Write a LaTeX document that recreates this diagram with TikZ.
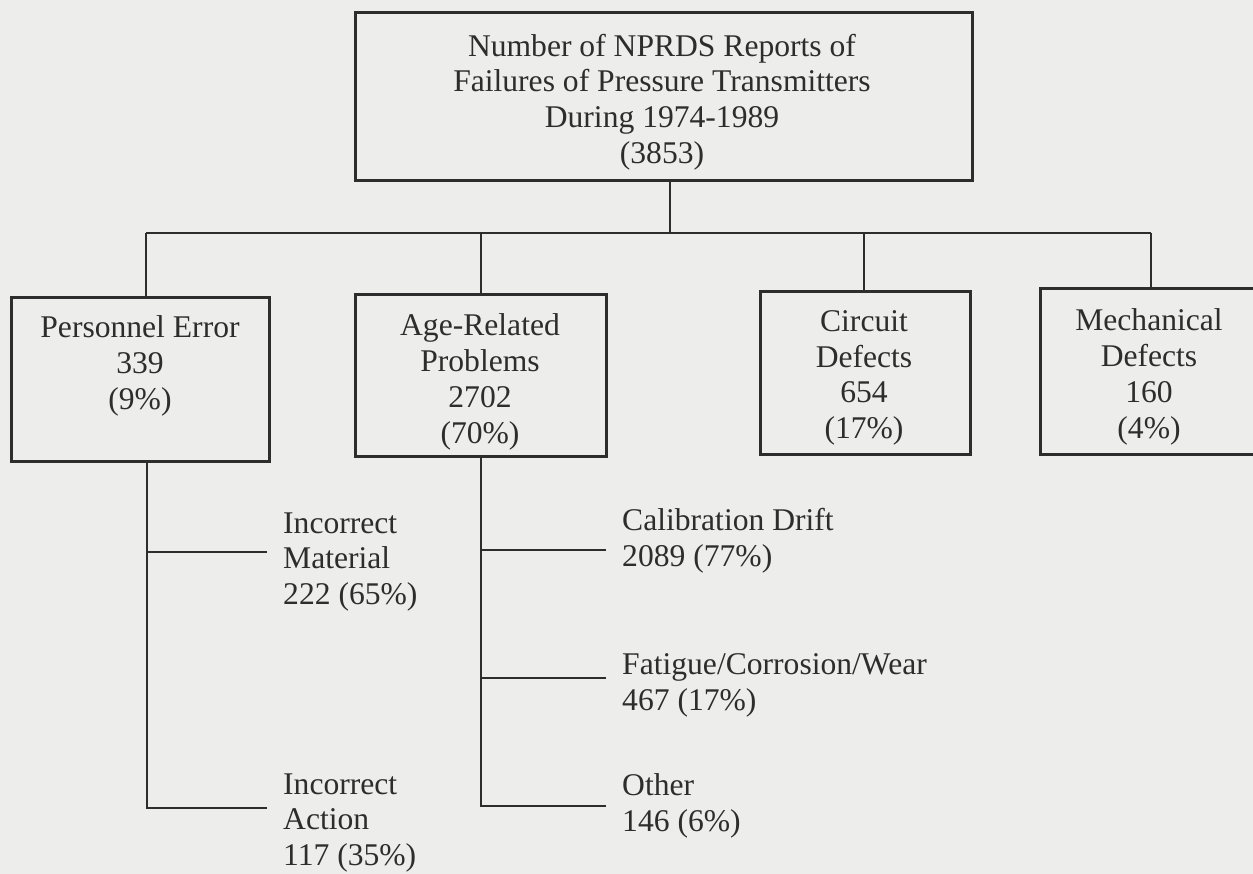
\documentclass[tikz,border=0pt]{standalone}
\usepackage{fontspec}
\setmainfont{Liberation Serif}
\definecolor{bgc}{RGB}{237,237,235}
\definecolor{inkc}{RGB}{45,45,45}
\begin{document}
\begin{tikzpicture}[x=1pt,y=-1pt,
  every node/.style={font=\fontsize{31.6}{35.8}\selectfont, text=inkc, inner sep=0pt},
  boxc/.style={draw=inkc, line width=2.6pt, rectangle, anchor=north west},
  ctext/.style={align=center},
  ltext/.style={align=left, anchor=west},
  link/.style={draw=inkc, line width=2.4pt}]
\fill[bgc] (0,0) rectangle (1253,874);
\useasboundingbox (0,0) rectangle (1253,874);
% boxes
\node[boxc, minimum width=617pt, minimum height=168pt] (top) at (354,11) {};
\node[boxc, minimum width=258pt, minimum height=164pt] (pe) at (10,296) {};
\node[boxc, minimum width=251pt, minimum height=162pt] (ar) at (354,293) {};
\node[boxc, minimum width=210pt, minimum height=163pt] (cd) at (759,290) {};
\node[boxc, minimum width=230pt, minimum height=166pt] (md) at (1039,287) {};
% box texts
\node[ctext] (topt) at (662,102) {Number of NPRDS Reports of\\Failures of Pressure Transmitters\\During 1974-1989\\(3853)};
\node[ctext] (pet) at (140,366) {Personnel Error\\339\\(9\%)};
\node[ctext] (art) at (480,382) {Age-Related\\Problems\\2702\\(70\%)};
\node[ctext] (cdt) at (864,378) {Circuit\\Defects\\654\\(17\%)};
\node[ctext] (mdt) at (1149,377) {Mechanical\\Defects\\160\\(4\%)};
% sub texts
\node[ltext] (im) at (283,562) {Incorrect\\Material\\222 (65\%)};
\node[ltext] (ia) at (283,823) {Incorrect\\Action\\117 (35\%)};
\node[ltext] (cal) at (622,541) {Calibration Drift\\2089 (77\%)};
\node[ltext] (fcw) at (622,685) {Fatigue/Corrosion/Wear\\467 (17\%)};
\node[ltext] (oth) at (622,806) {Other\\146 (6\%)};
% coordinates
\coordinate (stem) at (670,233);
\coordinate (busL) at (146,233);
\coordinate (busA) at (481,233);
\coordinate (busC) at (864,233);
\coordinate (busR) at (1151,233);
\coordinate (peA) at (147,552);
\coordinate (peB) at (147,808);
\coordinate (imL) at (267,552);
\coordinate (iaL) at (267,808);
\coordinate (arA) at (481,550);
\coordinate (arB) at (481,678);
\coordinate (arC) at (481,806);
\coordinate (calL) at (606,550);
\coordinate (fcwL) at (606,678);
\coordinate (othL) at (606,806);
% connectors
\draw[link] (top.south -| stem) -- (stem);
\draw[link] (busL) -- (busR);
\draw[link] (busL) -- (pe.north -| busL);
\draw[link] (busA) -- (ar.north -| busA);
\draw[link] (busC) -- (cd.north -| busC);
\draw[link] (busR) -- (md.north -| busR);
\draw[link] (pe.south -| peB) -- (peB) -- (iaL);
\draw[link] (peA) -- (imL);
\draw[link] (ar.south -| arC) -- (arC) -- (othL);
\draw[link] (arA) -- (calL);
\draw[link] (arB) -- (fcwL);
\end{tikzpicture}
\end{document}
